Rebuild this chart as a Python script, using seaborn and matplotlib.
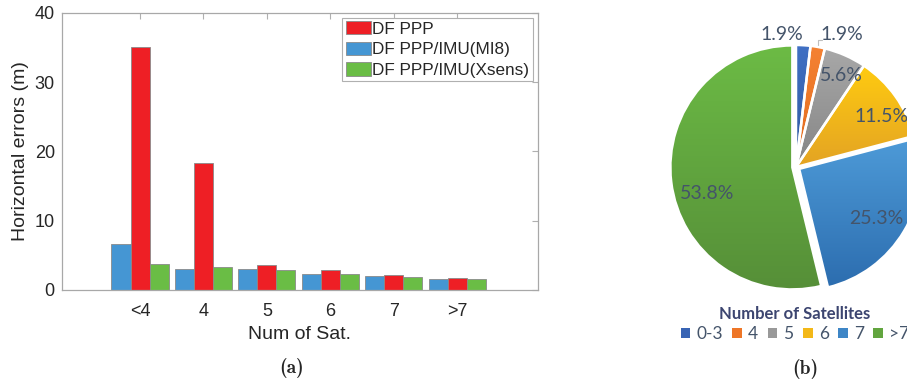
import matplotlib
matplotlib.use('Agg')
import matplotlib.pyplot as plt
import matplotlib.patches as mpatches
import matplotlib.colors as mcolors
import numpy as np
import pandas as pd
import seaborn as sns

# ---------------- data ----------------
categories = ['<4', '4', '5', '6', '7', '>7']
df_ppp = [35.1, 18.35, 3.55, 2.85, 2.1, 1.8]
ppp_imu_mi8 = [6.6, 3.0, 3.0, 2.35, 1.95, 1.65]
ppp_imu_xsens = [3.8, 3.35, 2.85, 2.3, 1.85, 1.65]
plot_order = ['DF PPP/IMU(MI8)', 'DF PPP', 'DF PPP/IMU(Xsens)']
legend_order = ['DF PPP', 'DF PPP/IMU(MI8)', 'DF PPP/IMU(Xsens)']
bar_colors = {'DF PPP': '#EE1F25', 'DF PPP/IMU(MI8)': '#4596D3',
              'DF PPP/IMU(Xsens)': '#6ABD45'}
yticks = [0, 10, 20, 30, 40]

pie_labels = ['0-3', '4', '5', '6', '7', '>7']
pie_pcts = [1.9, 1.9, 5.6, 11.5, 25.3, 53.8]
pie_top = ['#4070C4', '#F58233', '#A8A8A8', '#FFCB10', '#4E9BD8', '#6CBB45']
pie_bot = ['#2F58A0', '#E06A1E', '#858585', '#E3A324', '#2C6DAF', '#568F38']
pie_mid = ['#3864B4', '#EE7627', '#999999', '#F3B818', '#3E86C6', '#62A53F']
pie_explode = [0, 0, 0, 0, 0.03, 0.03]
pct_pos = [(-0.115, 1.085), (0.375, 1.085), (0.37, 0.75),
           (0.70, 0.41), (0.66, -0.42), (-0.727, -0.216)]

# ---------------- figure ----------------
W, H = 907, 382
fig = plt.figure(figsize=(W / 100, H / 100), dpi=100)
sns.set_style('white')
plt.rcParams['font.family'] = ['Liberation Sans', 'DejaVu Sans']

# ----- (a) bar chart -----
ax = fig.add_axes([61.7 / W, 1 - 290 / H, 476 / W, 277.3 / H])
data = pd.DataFrame({
    'sat': categories * 3,
    'err': ppp_imu_mi8 + df_ppp + ppp_imu_xsens,
    'method': [plot_order[0]] * 6 + [plot_order[1]] * 6 + [plot_order[2]] * 6,
})
sns.barplot(data=data, x='sat', y='err', hue='method', hue_order=plot_order,
            order=categories, palette=bar_colors, width=0.9, gap=0,
            edgecolor='#8a8a8a', linewidth=0.6, ax=ax, saturation=1)
ax.set_xlim(-1.235, 6.27)
ax.set_ylim(0, 40)
ax.set_yticks(yticks)
ax.set_xlabel('Num of Sat.', fontsize=14, color='#262626', labelpad=5)
ax.set_ylabel('Horizontal errors (m)', fontsize=14, color='#262626', labelpad=4)
ax.tick_params(axis='both', direction='in', top=True, right=True, length=4,
               width=0.8, color='#b0b0b0', labelsize=13, labelcolor='#262626')
ax.tick_params(axis='x', pad=9)
ax.tick_params(axis='y', pad=5)
for s in ax.spines.values():
    s.set_visible(True)
    s.set_color('#a8a8a8')
    s.set_linewidth(0.9)

handles, labels = ax.get_legend_handles_labels()
hmap = dict(zip(labels, handles))
leg = ax.legend([hmap[k] for k in legend_order], legend_order,
                loc='upper right', bbox_to_anchor=(1, 1), borderaxespad=0.3,
                fontsize=12.3, frameon=True, fancybox=False, framealpha=1,
                edgecolor='#b0b0b0', handlelength=1.5, handleheight=0.8,
                handletextpad=0.05, labelspacing=0.3, borderpad=0.2)
leg.get_frame().set_linewidth(0.8)
for t in leg.get_texts():
    t.set_color('#262626')

# ----- (b) pie chart -----
R = 122
cx, cy = 796, 167
half = 150
ax2 = fig.add_axes([(cx - half) / W, (H - cy - half) / H, 2 * half / W, 2 * half / H])
lim = half / R
wedges, _ = ax2.pie(pie_pcts, startangle=90, counterclock=False,
                    colors=pie_mid, explode=pie_explode,
                    wedgeprops=dict(edgecolor='white', linewidth=1.8))
ax2.set_aspect('equal')
ax2.axis('off')

# vertical gradient inside each wedge
for w, c1, c2 in zip(wedges, pie_top, pie_bot):
    bb = w.get_path().get_extents(w.get_transform())
    inv = ax2.transData.inverted()
    (x0, y0), (x1, y1) = inv.transform([[bb.x0, bb.y0], [bb.x1, bb.y1]])
    cmap = mcolors.LinearSegmentedColormap.from_list('g', [c2, c1])
    grad = np.linspace(0, 1, 256).reshape(-1, 1)
    im = ax2.imshow(grad, extent=(x0, x1, y0, y1), origin='lower', cmap=cmap,
                    aspect='auto', zorder=w.get_zorder() + 0.1)
    im.set_clip_path(w)
    outline = mpatches.Wedge(w.center, w.r, w.theta1, w.theta2, fill=False,
                             edgecolor='white', linewidth=1.8,
                             zorder=w.get_zorder() + 0.2)
    ax2.add_patch(outline)
ax2.set_xlim(-lim, lim)
ax2.set_ylim(-lim, lim)

for (px, py), p in zip(pct_pos, pie_pcts):
    ax2.text(px, py, f'{p}%', ha='center', va='center', fontsize=14,
             color='#44546A', family=['Lato', 'DejaVu Sans'], zorder=10)
# leader line for the second small slice
ax2.plot([0.18, 0.18, 0.21], [1.0, 1.045, 1.045], color='#bfbfbf', lw=0.8, zorder=9)

pie_handles = [mpatches.Patch(facecolor=c, edgecolor='none') for c in pie_mid]
leg2 = fig.legend(pie_handles, pie_labels, loc='upper center',
                  bbox_to_anchor=(795 / W, 1 - 290 / H), ncol=6, frameon=False,
                  handlelength=0.55, handleheight=0.55,
                  handletextpad=0.35, columnspacing=0.55, labelspacing=0.25,
                  title='Number of Satellites',
                  prop={'family': ['Lato', 'DejaVu Sans'], 'size': 12.5},
                  title_fontproperties={'family': ['Lato', 'DejaVu Sans'],
                                        'weight': 'bold', 'size': 12})
leg2.get_title().set_color('#3C4570')
for t in leg2.get_texts():
    t.set_color('#44546A')

# captions
fig.text(292 / W, 1 - 368 / H, '(a)', ha='center', va='center', fontsize=14,
         family=['cmb10', 'DejaVu Serif'])
fig.text(805 / W, 1 - 369 / H, '(b)', ha='center', va='center', fontsize=14,
         family=['cmb10', 'DejaVu Serif'])

fig.savefig('out.png', dpi=100)
